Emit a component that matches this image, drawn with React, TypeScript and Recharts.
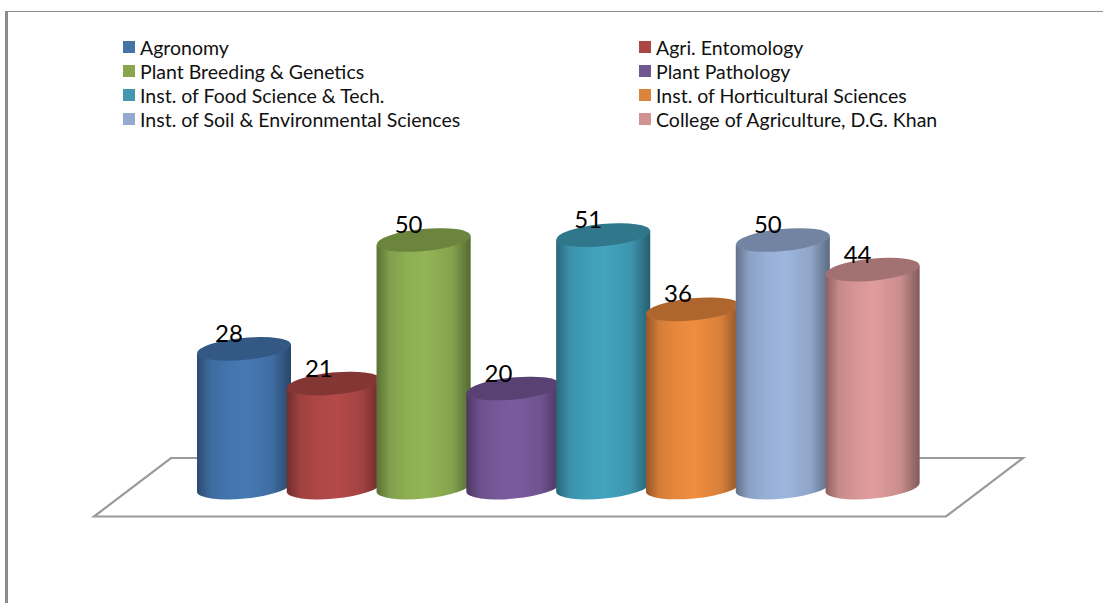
import React from 'react';
import { Bar, BarChart, Customized, LabelList, Legend, XAxis, YAxis } from 'recharts';

const departments = [
    'Agronomy',
    'Agri. Entomology',
    'Plant Breeding & Genetics',
    'Plant Pathology',
    'Inst. of Food Science & Tech.',
    'Inst. of Horticultural Sciences',
    'Inst. of Soil & Environmental Sciences',
    'College of Agriculture, D.G. Khan',
];
const values = [28, 21, 50, 20, 51, 36, 50, 44];
const colors = ['#4572a7', '#aa4643', '#89a54e', '#71588f', '#4198af', '#db843d', '#93a9cf', '#d19392'];
// the lit side of each cylinder is a bit brighter than its legend swatch
const litColors = ['#4679b4', '#b44a48', '#93b556', '#7b5b9e', '#43a4c0', '#f08d3f', '#9eb6de', '#e09c9c'];

const row: Record<string, number | string> = { name: 'Students' };
departments.forEach((d, i) => {
    row[d] = values[i];
});
const data = [row];

const FONT = 'Lato, sans-serif';
const TILT = 4.5; // rise of the cylinder ends, left to right
const RY = 11;

// white floor the cylinders stand on, it is only decoration
const Floor = () => (
    <polygon
        points="171,458 1023,458 946,516.5 94,516.5"
        fill="#fff"
        stroke="#9a9a9a"
        strokeWidth={2.2}
    />
);

const Cylinder = (props: any) => {
    const { x, y, width, height, fill } = props;
    const rx = width / 2;
    const rot = (Math.atan((2 * TILT) / width) * -180) / Math.PI;
    const base = y + height;
    const body =
        `M${x},${y + TILT} L${x},${base + TILT} ` +
        `A${rx},${RY} ${rot} 0 0 ${x + width},${base - TILT} ` +
        `L${x + width},${y - TILT} Z`;
    return (
        <g>
            <path d={body} fill={fill} />
            <path d={body} fill="url(#cylShade)" />
            <ellipse cx={x + rx} cy={y} rx={rx} ry={RY} fill={fill} transform={`rotate(${rot} ${x + rx} ${y})`} />
            <ellipse
                cx={x + rx}
                cy={y}
                rx={rx}
                ry={RY}
                fill="#000"
                fillOpacity={0.27}
                transform={`rotate(${rot} ${x + rx} ${y})`}
            />
        </g>
    );
};

const TwoColumnLegend = ({ payload }: any) => (
    <div
        style={{
            display: 'grid',
            gridTemplateColumns: '516px 420px',
            gridAutoRows: '24px',
            fontFamily: FONT,
            fontSize: 19.5,
            color: '#111',
        }}
    >
        {(payload || []).map((p: any) => (
            <div key={p.value} style={{ display: 'flex', alignItems: 'center', whiteSpace: 'nowrap' }}>
                <span style={{ width: 12, height: 12, background: p.color, marginRight: 5, flex: 'none' }} />
                {p.value}
            </div>
        ))}
    </div>
);

export default function App() {
    return (
        <div style={{ position: 'absolute', left: 0, top: 0, width: 1103, height: 603, background: '#fff', overflow: 'hidden' }}>
            <div
                style={{
                    position: 'absolute',
                    left: 5,
                    top: 11,
                    right: 0,
                    bottom: 0,
                    borderLeft: '3px solid #8c8c8c',
                    borderTop: '1.5px solid #8c8c8c',
                }}
            />
            <BarChart
                width={1103}
                height={603}
                data={data}
                margin={{ top: 190.5, right: 95, bottom: 115.5, left: 108 }}
                barSize={94}
                barGap={-4.2}
                style={{ position: 'absolute', left: 0, top: 0 }}
            >
                <defs>
                    <linearGradient id="cylShade" x1="0" y1="0" x2="1" y2="0">
                        <stop offset="0%" stopColor="#000" stopOpacity={0.38} />
                        <stop offset="14%" stopColor="#000" stopOpacity={0.12} />
                        <stop offset="32%" stopColor="#000" stopOpacity={0.04} />
                        <stop offset="52%" stopColor="#000" stopOpacity={0} />
                        <stop offset="80%" stopColor="#000" stopOpacity={0.1} />
                        <stop offset="100%" stopColor="#000" stopOpacity={0.42} />
                    </linearGradient>
                </defs>
                <Customized component={Floor} />
                <XAxis dataKey="name" hide />
                <YAxis hide domain={[0, 60]} />
                <Legend
                    verticalAlign="middle"
                    layout="horizontal"
                    itemSorter={null}
                    content={<TwoColumnLegend />}
                    wrapperStyle={{ left: 123, top: 35, width: 950 }}
                />
                {departments.map((d, i) => (
                    <Bar
                        key={d}
                        dataKey={d}
                        fill={colors[i]}
                        shape={(p: any) => <Cylinder {...p} fill={litColors[i]} />}
                        isAnimationActive={false}
                    >
                        <LabelList
                            dataKey={d}
                            position="top"
                            offset={7}
                            dx={-15}
                            fill="#000"
                            fontSize={24}
                            fontFamily={FONT}
                        />
                    </Bar>
                ))}
            </BarChart>
        </div>
    );
}
